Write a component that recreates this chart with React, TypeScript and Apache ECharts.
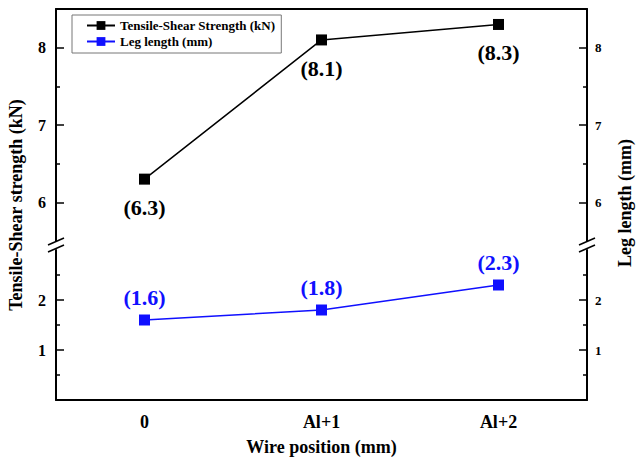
import React, { useEffect, useRef } from "react";
import * as echarts from "echarts";

const categories = ["0", "Al+1", "Al+2"];
const strengthKN = [6.3, 8.1, 8.3];
const legLengthMM = [1.6, 1.8, 2.3];
const upperTicks = [6, 7, 8];
const upperMinorTicks = [6.5, 7.5];
const lowerTicks = [1, 2];
const lowerMinorTicks = [0.5, 1.5, 2.5];
const seriesNames = ["Tensile-Shear Strength (kN)", "Leg length (mm)"];
const xName = "Wire position (mm)";
const leftName = "Tensile-Shear strength (kN)";
const rightName = "Leg length (mm)";

const FONT = "'Liberation Serif', 'Times New Roman', serif";

export default function App() {
  const ref = useRef<HTMLDivElement>(null);
  useEffect(() => {
    if (!ref.current) return;
    const chart = echarts.init(ref.current, undefined, { renderer: "svg" });
    const gLeft = 56;
    const gRight = 49;
    const upTop = 9;
    const upH = 232;
    const lowTop = 250;
    const lowH = 150;
    const upBottom = upTop + upH;
    const rightX = 636 - gRight;

    const yAxisMajor = (grid: number, pos: "left" | "right", min: number, max: number, ticks: number[]) => ({
      type: "value",
      gridIndex: grid,
      position: pos,
      min,
      max,
      splitNumber: 3,
      splitLine: { show: false },
      axisLine: { show: true, lineStyle: { color: "#000", width: 2 } },
      axisTick: { show: true, inside: true, length: 8, customValues: ticks, lineStyle: { color: "#000", width: 1.5 } },
      axisLabel: {
        customValues: ticks,
        color: "#000",
        fontFamily: FONT,
        fontWeight: "bold",
        fontSize: pos === "left" ? 16 : 13,
        margin: pos === "left" ? 10 : 8,
      },
    });

    const yAxisMinor = (grid: number, pos: "left" | "right", min: number, max: number, ticks: number[]) => ({
      type: "value",
      gridIndex: grid,
      position: pos,
      offset: 0,
      min,
      max,
      splitNumber: 3,
      splitLine: { show: false },
      axisLine: { show: false },
      axisTick: { show: true, inside: true, length: 4, customValues: ticks, lineStyle: { color: "#000", width: 1.5 } },
      axisLabel: { show: false },
    });

    const slash = (x: number, y: number) => ({
      type: "line",
      shape: { x1: x - 8, y1: y + 3.5, x2: x + 8, y2: y - 3.5 },
      style: { stroke: "#000", lineWidth: 1.5 },
      z: 100,
    });

    const option: any = {
      animation: false,
      backgroundColor: "#fff",
      grid: [
        { left: gLeft, right: gRight, top: upTop, height: upH },
        { left: gLeft, right: gRight, top: lowTop, height: lowH },
      ],
      legend: {
        orient: "vertical",
        left: 72,
        top: 15,
        itemWidth: 28,
        itemHeight: 11,
        itemGap: 3,
        padding: [4, 6, 5, 14],
        borderColor: "#777",
        borderWidth: 1,
        backgroundColor: "#fff",
        data: seriesNames,
        textStyle: { fontFamily: FONT, fontWeight: "bold", fontSize: 13, color: "#000" },
      },
      xAxis: [
        {
          type: "category",
          gridIndex: 0,
          position: "top",
          data: categories,
          boundaryGap: true,
          axisLine: { show: true, lineStyle: { color: "#000", width: 2 } },
          axisTick: { show: false },
          axisLabel: { show: false },
        },
        {
          type: "category",
          gridIndex: 1,
          position: "bottom",
          data: categories,
          boundaryGap: true,
          axisLine: { show: true, lineStyle: { color: "#000", width: 2 } },
          axisTick: { show: false },
          axisLabel: { color: "#000", fontFamily: FONT, fontWeight: "bold", fontSize: 18, margin: 13 },
        },
      ],
      yAxis: [
        yAxisMajor(0, "left", 5.5, 8.5, upperTicks),
        yAxisMajor(0, "right", 5.5, 8.5, upperTicks),
        yAxisMajor(1, "left", 0, 3, lowerTicks),
        yAxisMajor(1, "right", 0, 3, lowerTicks),
        yAxisMinor(0, "left", 5.5, 8.5, upperMinorTicks),
        yAxisMinor(0, "right", 5.5, 8.5, upperMinorTicks),
        yAxisMinor(1, "left", 0, 3, lowerMinorTicks),
        yAxisMinor(1, "right", 0, 3, lowerMinorTicks),
      ],
      series: [
        {
          name: seriesNames[0],
          type: "line",
          xAxisIndex: 0,
          yAxisIndex: 0,
          data: strengthKN,
          symbol: "rect",
          symbolSize: 11,
          lineStyle: { color: "#000", width: 1.5 },
          itemStyle: { color: "#000" },
          label: {
            show: true,
            position: "bottom",
            distance: 12,
            formatter: (p: any) => `(${p.value})`,
            color: "#000",
            fontFamily: FONT,
            fontWeight: "bold",
            fontSize: 22,
          },
        },
        {
          name: seriesNames[1],
          type: "line",
          xAxisIndex: 1,
          yAxisIndex: 2,
          data: legLengthMM,
          symbol: "rect",
          symbolSize: 11,
          lineStyle: { color: "#1010ff", width: 1.5 },
          itemStyle: { color: "#1010ff" },
          label: {
            show: true,
            position: "top",
            distance: 6,
            formatter: (p: any) => `(${p.value})`,
            color: "#1010ff",
            fontFamily: FONT,
            fontWeight: "bold",
            fontSize: 22,
          },
        },
      ],
      graphic: [
        slash(gLeft, upBottom + 0.5),
        slash(gLeft, lowTop - 1.5),
        slash(rightX, upBottom + 0.5),
        slash(rightX, lowTop - 1.5),
        {
          type: "text",
          x: (gLeft + rightX) / 2,
          y: 447,
          style: { text: xName, fill: "#000", font: `bold 18px ${FONT}`, align: "center", verticalAlign: "middle" },
        },
        {
          type: "text",
          x: 16,
          y: 205,
          rotation: Math.PI / 2,
          style: { text: leftName, fill: "#000", font: `bold 18px ${FONT}`, align: "center", verticalAlign: "middle" },
        },
        {
          type: "text",
          x: 625,
          y: 203,
          rotation: Math.PI / 2,
          style: { text: rightName, fill: "#000", font: `bold 18px ${FONT}`, align: "center", verticalAlign: "middle" },
        },
      ],
    };
    chart.setOption(option);
    return () => chart.dispose();
  }, []);
  return <div ref={ref} style={{ position: "fixed", left: 0, top: 0, width: 636, height: 457 }} />;
}
